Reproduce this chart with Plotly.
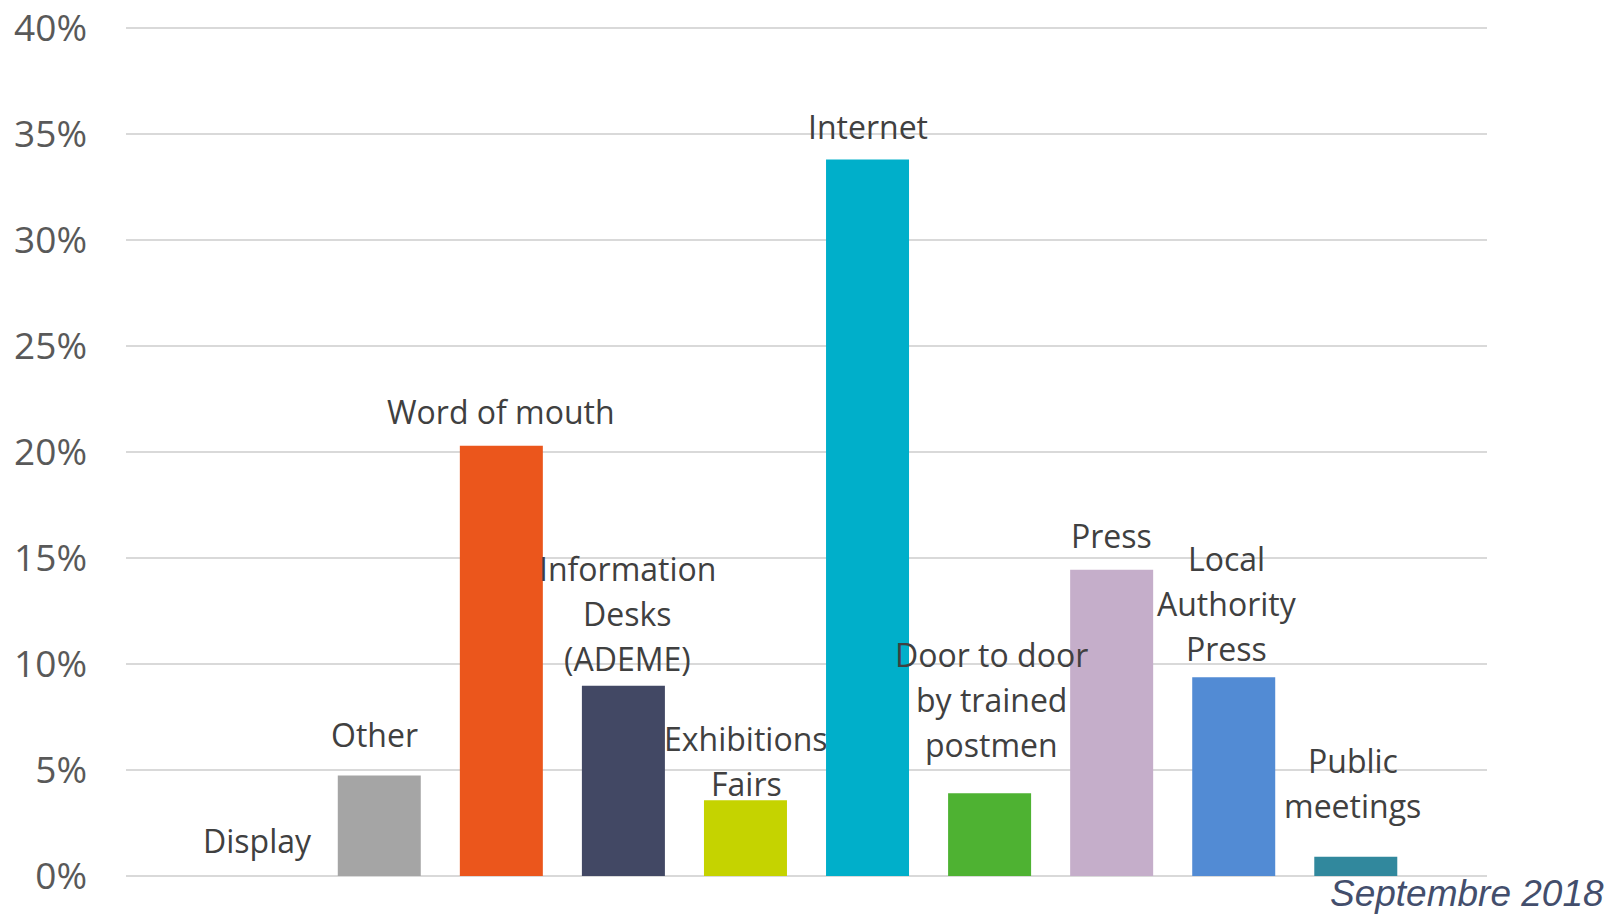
import plotly.graph_objects as go

categories = ["Display", "Other", "Word of mouth", "Information Desks (ADEME)",
              "Exhibitions Fairs", "Internet", "Door to door by trained postmen",
              "Press", "Local Authority Press", "Public meetings"]
label_lines = [["Display"], ["Other"], ["Word of mouth"], ["Information", "Desks", "(ADEME)"],
               ["Exhibitions", "Fairs"], ["Internet"], ["Door to door", "by trained", "postmen"],
               ["Press"], ["Local", "Authority", "Press"], ["Public", "meetings"]]
values = [0, 4.74, 20.3, 8.97, 3.57, 33.8, 3.9, 14.45, 9.37, 0.91]
y_ticks = [0, 5, 10, 15, 20, 25, 30, 35, 40]
y_tick_text = ["0%", "5%", "10%", "15%", "20%", "25%", "30%", "35%", "40%"]
note = "Septembre 2018"

# styling (not data)
colors = ["#A5A5A5", "#A5A5A5", "#EB561C", "#424864", "#C5D300", "#00AFCA",
          "#4EB232", "#C5AECA", "#528BD4", "#31889D"]
label_gap_px = [23, 29, 22, 15, 4, 20, 36, 22, 16, 39]   # baseline gap above bar top
label_dx_px = [0, -5, 0, 4, 1, 0, 2, 0, -7, -3]
LINE_H = 45
BASE_OFF = 11

fig = go.Figure()
fig.add_trace(go.Bar(x=categories, y=values, marker=dict(color=colors, line=dict(width=0)),
                     width=0.68, hoverinfo="skip"))

for c, lines, v, gap, dx in zip(categories, label_lines, values, label_gap_px, label_dx_px):
    n = len(lines)
    for i, ln in enumerate(lines):
        k = n - 1 - i
        fig.add_annotation(x=c, y=v, xref="x", yref="y", text=ln, showarrow=False,
                           yanchor="bottom", xanchor="center",
                           yshift=gap - BASE_OFF + k * LINE_H, xshift=dx,
                           font=dict(family="Open Sans", size=32, color="#404040"))

fig.add_annotation(x=1.0875, y=-0.021, xref="paper", yref="paper", text="<i>" + note + "</i>",
                   showarrow=False, xanchor="right", yanchor="middle",
                   font=dict(family="Liberation Sans, Arial", size=37, color="#434E6C"))

fig.update_layout(
    width=1610, height=915,
    margin=dict(l=126, r=123, t=27, b=39, autoexpand=False),
    plot_bgcolor="white", paper_bgcolor="white",
    showlegend=False,
    xaxis=dict(type="category", range=[-1.075, 10.075], showticklabels=False,
               showgrid=False, zeroline=False, showline=False, automargin=False),
    yaxis=dict(range=[0, 40.05], tickvals=y_ticks, ticktext=y_tick_text,
               showgrid=True, gridcolor="#D9D9D9", gridwidth=1.5,
               zeroline=True, zerolinecolor="#D9D9D9", zerolinewidth=1.5,
               showline=False, ticks="", ticklabelstandoff=38, automargin=False,
               tickfont=dict(family="Open Sans", size=37, color="#595959")),
)

fig.write_html("out.html")
